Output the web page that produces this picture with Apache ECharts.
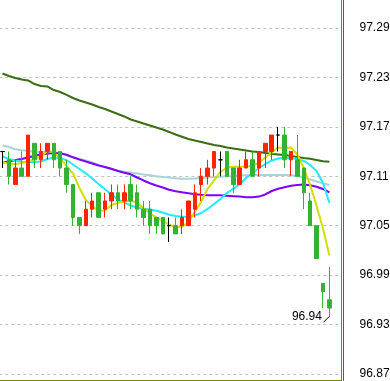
<!DOCTYPE html>
<html>
<head>
<meta charset="utf-8">
<script src="https://cdn.jsdelivr.net/npm/echarts@6.0.0/dist/echarts.min.js"></script>
<style>
html,body{margin:0;padding:0;background:#fff;}
#main{width:390px;height:381px;}
</style>
</head>
<body>
<div id="main"></div>
<script>
// 52 candles + one empty slot on the right
const categories = Array.from({length: 53}, (_, i) => String(i + 1));

// [open, close, lowest, highest]
const candles = [
[97.14,97.14,97.12,97.14],
[97.13,97.11,97.10,97.14],
[97.10,97.12,97.10,97.13],
[97.12,97.11,97.11,97.14],
[97.11,97.16,97.11,97.16],
[97.15,97.13,97.12,97.15],
[97.13,97.14,97.12,97.15],
[97.14,97.15,97.13,97.15],
[97.15,97.13,97.12,97.15],
[97.14,97.12,97.11,97.14],
[97.12,97.10,97.09,97.13],
[97.10,97.06,97.05,97.10],
[97.06,97.05,97.04,97.06],
[97.05,97.07,97.05,97.08],
[97.07,97.08,97.06,97.09],
[97.09,97.06,97.06,97.09],
[97.07,97.08,97.06,97.09],
[97.08,97.09,97.07,97.10],
[97.09,97.08,97.07,97.10],
[97.08,97.09,97.07,97.10],
[97.10,97.08,97.07,97.11],
[97.09,97.07,97.06,97.10],
[97.07,97.06,97.05,97.08],
[97.07,97.05,97.04,97.08],
[97.06,97.05,97.04,97.06],
[97.06,97.04,97.04,97.06],
[97.05,97.05,97.03,97.06],
[97.05,97.04,97.04,97.06],
[97.05,97.06,97.04,97.07],
[97.05,97.08,97.05,97.08],
[97.07,97.09,97.06,97.10],
[97.10,97.11,97.08,97.12],
[97.11,97.12,97.10,97.13],
[97.12,97.14,97.11,97.14],
[97.13,97.13,97.11,97.14],
[97.14,97.11,97.11,97.14],
[97.12,97.10,97.09,97.12],
[97.10,97.12,97.10,97.13],
[97.12,97.13,97.12,97.14],
[97.13,97.11,97.11,97.14],
[97.12,97.14,97.11,97.14],
[97.14,97.15,97.12,97.15],
[97.14,97.16,97.13,97.16],
[97.16,97.16,97.14,97.17],
[97.16,97.13,97.12,97.17],
[97.13,97.14,97.11,97.14],
[97.13,97.11,97.11,97.16],
[97.12,97.09,97.07,97.12],
[97.08,97.05,97.05,97.09],
[97.05,97.01,97.01,97.05],
[96.98,96.97,96.95,96.98],
[96.96,96.95,96.94,97.00]
];

const maDarkGreen = [97.2348,97.2317,97.2293,97.2275,97.2263,97.2220,97.2196,97.2190,97.2147,97.2123,
97.2087,97.2050,97.2020,97.1996,97.1971,97.1941,97.1917,97.1886,97.1856,97.1826,
97.1789,97.1765,97.1741,97.1716,97.1692,97.1668,97.1638,97.1607,97.1580,97.1553,
97.1534,97.1516,97.1498,97.1480,97.1468,97.1449,97.1437,97.1425,97.1413,97.1401,
97.1395,97.1383,97.1370,97.1364,97.1358,97.1346,97.1334,97.1322,97.1312,97.1298,
97.1283,97.1277];

const maLightBlue = [97.1474,97.1455,97.1428,97.1417,97.1407,97.1398,97.1398,97.1395,97.1391,97.1385,
97.1352,97.1328,97.1310,97.1292,97.1267,97.1237,97.1207,97.1182,97.1170,97.1156,
97.1146,97.1134,97.1122,97.1112,97.1101,97.1091,97.1084,97.1076,97.1071,97.1071,
97.1073,97.1079,97.1085,97.1091,97.1095,97.1100,97.1103,97.1110,97.1112,97.1114,
97.1116,97.1116,97.1116,97.1116,97.1116,97.1112,97.1103,97.1085,97.1061,97.1037,
97.1015,97.0994];

const maPurple = [97.1267,97.1279,97.1298,97.1310,97.1328,97.1349,97.1364,97.1377,97.1379,97.1379,
97.1361,97.1330,97.1304,97.1279,97.1255,97.1231,97.1213,97.1191,97.1164,97.1142,
97.1124,97.1085,97.1049,97.1015,97.0988,97.0964,97.0936,97.0919,97.0906,97.0895,
97.0883,97.0875,97.0870,97.0869,97.0868,97.0863,97.0858,97.0853,97.0846,97.0845,
97.0853,97.0879,97.0921,97.0948,97.0967,97.0984,97.0994,97.1000,97.0991,97.0972,
97.0946,97.0903];

const maCyan = [97.1340,97.1310,97.1292,97.1277,97.1273,97.1273,97.1279,97.1310,97.1326,97.1322,
97.1294,97.1243,97.1188,97.1136,97.1073,97.1006,97.0942,97.0879,97.0818,97.0782,
97.0745,97.0721,97.0706,97.0697,97.0681,97.0660,97.0632,97.0618,97.0609,97.0609,
97.0624,97.0654,97.0703,97.0764,97.0824,97.0897,97.0946,97.1003,97.1079,97.1140,
97.1197,97.1249,97.1292,97.1316,97.1326,97.1322,97.1310,97.1286,97.1237,97.1164,
97.1018,97.0776];

const maYellow = [97.1271,97.1252,97.1245,97.1261,97.1279,97.1306,97.1340,97.1409,97.1389,97.1316,
97.1225,97.1134,97.0958,97.0812,97.0739,97.0679,97.0685,97.0751,97.0776,97.0790,
97.0806,97.0782,97.0709,97.0651,97.0600,97.0557,97.0512,97.0490,97.0484,97.0545,
97.0666,97.0794,97.0946,97.1049,97.1152,97.1207,97.1216,97.1216,97.1216,97.1231,
97.1261,97.1328,97.1389,97.1449,97.1441,97.1449,97.1364,97.1201,97.0994,97.0739,
97.0466,97.0138];

// y axis ticks: 96.87 ... 97.29 every 0.06 (96.81 and 97.35 fall outside the picture)
const yMin = 96.81, yMax = 97.35, yStep = 0.06;

const chart = echarts.init(document.getElementById('main'), null, {renderer: 'canvas'});

function maSeries(name, data, color) {
  return {
    name: name, type: 'line', data: data, symbol: 'none', smooth: false,
    lineStyle: {color: color, width: 2}, z: 2, silent: true
  };
}

chart.setOption({
  animation: false,
  backgroundColor: '#ffffff',
  grid: {left: -0.705, top: -21.43, width: 339.73, height: 444.8, containLabel: false, outerBoundsMode: 'none'},
  xAxis: {
    type: 'category', data: categories, boundaryGap: true,
    axisLine: {show: false}, axisTick: {show: false}, axisLabel: {show: false}, splitLine: {show: false}
  },
  yAxis: {
    type: 'value', position: 'right', min: yMin, max: yMax, interval: yStep, scale: true,
    axisLine: {show: false}, axisTick: {show: false},
    axisLabel: {
      margin: 20.5, color: '#000', fontFamily: 'Liberation Sans', fontSize: 12,
      formatter: v => v.toFixed(2)
    },
    splitLine: {show: true, lineStyle: {color: '#c0c0c0', type: [3, 3], width: 1}}
  },
  series: [
    maSeries('MA1', maDarkGreen, '#3b6d12'),
    maSeries('MA2', maLightBlue, '#a9d3d6'),
    maSeries('MA3', maPurple, '#8000ff'),
    maSeries('MA4', maCyan, '#22eaff'),
    maSeries('MA5', maYellow, '#d0df00'),
    {
      type: 'candlestick', data: candles, barWidth: 4, z: 3,
      itemStyle: {
        color: '#ff2400', color0: '#33b233',
        borderColor: '#ff2400', borderColor0: '#33b233', borderColorDoji: '#000000', borderWidth: 1
      },
      markPoint: {
        silent: true,
        data: [{type: 'min', valueDim: 'lowest'}],
        symbol: 'path://M0,10L10,0',
        symbolSize: [6, 6],
        symbolOffset: [-3, 3],
        itemStyle: {color: 'rgba(0,0,0,0)', borderColor: '#000', borderWidth: 1},
        label: {
          show: true, position: 'left', distance: 1, offset: [0, -3],
          color: '#000', fontFamily: 'Liberation Sans', fontSize: 12,
          formatter: p => Number(p.value).toFixed(2)
        }
      }
    }
  ],
  graphic: [
    {type: 'line', shape: {x1: 341.5, y1: 0, x2: 341.5, y2: 381}, style: {stroke: '#808000', lineWidth: 1}, z: 10},
    {type: 'line', shape: {x1: 0, y1: 380.5, x2: 341.5, y2: 380.5}, style: {stroke: '#808000', lineWidth: 1}, z: 10},
    {type: 'line', shape: {x1: 343.5, y1: 0, x2: 343.5, y2: 381}, style: {stroke: '#008080', lineWidth: 1}, z: 10}
  ]
});
</script>
</body>
</html>
